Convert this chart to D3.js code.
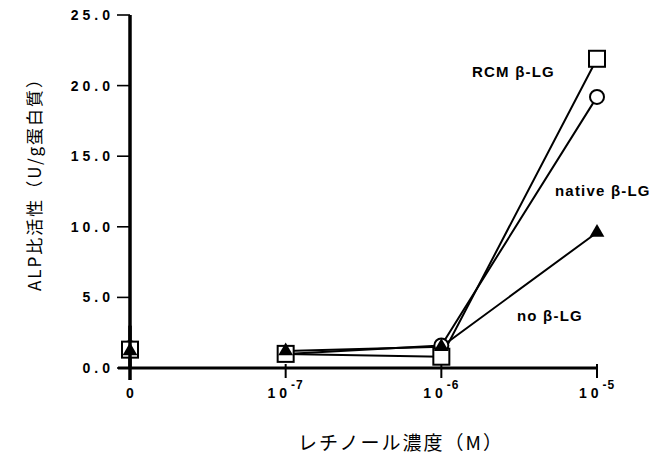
<!DOCTYPE html>
<html>
<head>
<meta charset="utf-8">
<script src="https://cdn.jsdelivr.net/npm/d3@7"></script>
<style>
  body { margin: 0; background: #fff; }
  svg { display: block; }
  .tick-label { font-family: "Liberation Sans", Arial, sans-serif; font-weight: bold; font-size: 14px; fill: #000; }
  .series-label { font-family: "Liberation Sans", Arial, sans-serif; font-weight: bold; font-size: 15px; letter-spacing: 1.2px; fill: #000; }
  .axis-title { font-family: "Noto Sans CJK JP", sans-serif; fill: #000; }
</style>
</head>
<body>
<svg id="chart" width="666" height="472"></svg>
<script>
// retinol concentration categories (x), ALP specific activity (y)
const concentrations = ["0", "1e-7", "1e-6", "1e-5"];
const xExponents = [null, "-7", "-6", "-5"];
const yTicks = [0, 5, 10, 15, 20, 25];

const rcmValues = [1.3, 1.0, 0.8, 21.9];
const nativeValues = [1.4, 1.0, 1.6, 19.2];
const noLgValues = [1.2, 1.2, 1.5, 9.6];

const seriesNames = ["RCM β-LG", "native β-LG", "no β-LG"];
const seriesMarkers = ["square", "circle", "triangle"];

const svg = d3.select("#chart");

const x = d3.scalePoint().domain(concentrations).range([130, 597]);
const y = d3.scaleLinear().domain([0, 25]).range([368, 15]);

// axes, drawn by hand to match the scanned figure
svg.append("line")
  .attr("x1", x("0")).attr("x2", x("0"))
  .attr("y1", y(25)).attr("y2", y(0) + 12)
  .attr("stroke", "#000").attr("stroke-width", 3.5);
svg.append("line")
  .attr("x1", x("0") - 12).attr("x2", x("1e-5"))
  .attr("y1", y(0)).attr("y2", y(0))
  .attr("stroke", "#000").attr("stroke-width", 3);

const yAxis = svg.append("g");
yAxis.selectAll("line").data(yTicks).join("line")
  .attr("x1", x("0") - 13).attr("x2", x("0"))
  .attr("y1", d => y(d)).attr("y2", d => y(d))
  .attr("stroke", "#000").attr("stroke-width", 1.6);
yAxis.selectAll("text").data(yTicks).join("text")
  .attr("class", "tick-label")
  .attr("x", x("0") - 16)
  .attr("y", d => y(d) + 5)
  .attr("text-anchor", "end")
  .attr("letter-spacing", "4px")
  .text(d => d.toFixed(1));

const xAxis = svg.append("g");
xAxis.selectAll("line").data(concentrations.slice(1)).join("line")
  .attr("x1", d => x(d)).attr("x2", d => x(d))
  .attr("y1", y(0) - 4).attr("y2", y(0) + 10)
  .attr("stroke", "#000").attr("stroke-width", 2);
xAxis.selectAll("text").data(concentrations).join("text")
  .attr("class", "tick-label")
  .attr("x", d => x(d))
  .attr("y", y(0) + 30)
  .attr("text-anchor", "middle")
  .each(function(d, i) {
    const t = d3.select(this);
    if (xExponents[i] == null) {
      t.text("0");
      return;
    }
    t.append("tspan").attr("letter-spacing", "4px").text("10");
    t.append("tspan").attr("dy", -9).attr("font-size", "12px").attr("letter-spacing", "1px").text(xExponents[i]);
  });

// series lines start at 1e-7
const series = [rcmValues, nativeValues, noLgValues];
const line = d3.line().x(d => x(d.c)).y(d => y(d.v));
series.forEach(vals => {
  const pts = concentrations.map((c, i) => ({ c, v: vals[i] })).slice(1);
  svg.append("path")
    .attr("d", line(pts))
    .attr("fill", "none")
    .attr("stroke", "#000")
    .attr("stroke-width", 2);
});

// markers
function drawMarker(kind, cx, cy) {
  if (kind === "square") {
    svg.append("rect")
      .attr("x", cx - 8).attr("y", cy - 8)
      .attr("width", 16).attr("height", 16)
      .attr("fill", "#fff").attr("stroke", "#000").attr("stroke-width", 2);
  } else if (kind === "circle") {
    svg.append("circle")
      .attr("cx", cx).attr("cy", cy).attr("r", 7)
      .attr("fill", "#fff").attr("stroke", "#000").attr("stroke-width", 2);
  } else {
    svg.append("path")
      .attr("d", d3.symbol().type(d3.symbolTriangle).size(95)())
      .attr("transform", `translate(${cx},${cy})`)
      .attr("fill", "#000");
  }
}
// draw order: circles, squares, triangles on top
[1, 0, 2].forEach(si => {
  series[si].forEach((v, i) => drawMarker(seriesMarkers[si], x(concentrations[i]), y(v)));
});
// axis passes through the markers at 0
svg.append("line")
  .attr("x1", x("0")).attr("x2", x("0"))
  .attr("y1", y(3)).attr("y2", y(0))
  .attr("stroke", "#000").attr("stroke-width", 3.5);

// series labels
const labelPos = [[472, 77], [555, 196], [517, 321]];
seriesNames.forEach((name, i) => {
  svg.append("text")
    .attr("class", "series-label")
    .attr("x", labelPos[i][0]).attr("y", labelPos[i][1])
    .text(name);
});

// axis titles
svg.append("text")
  .attr("class", "axis-title")
  .attr("transform", "translate(41,180) rotate(-90)")
  .attr("text-anchor", "middle")
  .attr("font-size", "17px")
  .attr("letter-spacing", "2px")
  .text("ALP比活性（U/g蛋白質）");
svg.append("text")
  .attr("class", "axis-title")
  .attr("x", 401).attr("y", 450)
  .attr("text-anchor", "middle")
  .attr("font-size", "19px")
  .attr("letter-spacing", "2px")
  .text("レチノール濃度（M）");
</script>
</body>
</html>
